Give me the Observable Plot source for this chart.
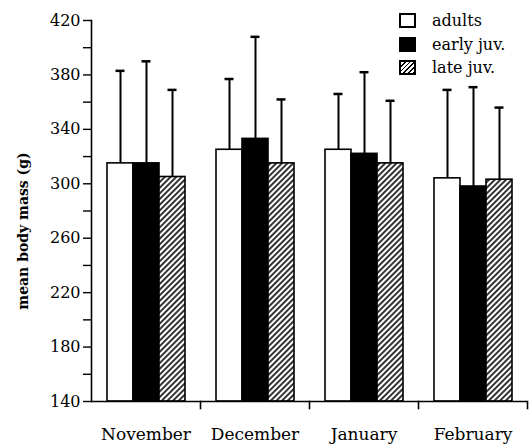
<!DOCTYPE html>
<html>
<head>
<meta charset="utf-8">
<script src="https://cdn.jsdelivr.net/npm/d3@7"></script>
<script src="https://cdn.jsdelivr.net/npm/@observablehq/plot@0.6"></script>
<style>
  body { margin: 0; background: #fff; }
  #wrap { position: relative; width: 531px; height: 445px; font-family: "DejaVu Serif", serif; }
  #legend { position: absolute; left: 399px; top: 9px; font-size: 16px; color: #000; }
  .row { display: flex; align-items: center; height: 23.5px; }
  .sw { width: 13px; height: 11px; border: 2px solid #000; margin-right: 16px; box-sizing: content-box; }
</style>
</head>
<body>
<div id="wrap"><div id="legend"></div></div>
<script>
const months = ["November", "December", "January", "February"];
const groups = ["adults", "early juv.", "late juv."];
const adultsMean = [315, 325, 325, 304];
const earlyMean  = [315, 333, 322, 298];
const lateMean   = [305, 315, 315, 303];
const adultsSD = [68, 52, 41, 65];
const earlySD  = [75, 75, 60, 73];
const lateSD   = [64, 47, 46, 53];
const yTicks = [140, 160, 180, 200, 220, 240, 260, 280, 300, 320, 340, 360, 380, 400, 420];
const fills = ["white", "black", "url(#hatch)"];

const means = [adultsMean, earlyMean, lateMean];
const sds = [adultsSD, earlySD, lateSD];
const rows = months.flatMap((m, i) => groups.map((g, j) => ({
  month: m, group: g, mean: means[j][i], upper: means[j][i] + sds[j][i]
})));

const chart = Plot.plot({
  width: 531,
  height: 445,
  marginLeft: 90,
  marginRight: 3,
  marginTop: 20,
  marginBottom: 44,
  style: { fontFamily: "DejaVu Serif", fontSize: "16px", color: "black", background: "white", overflow: "visible" },
  fx: { domain: months, padding: 0, label: null },
  x: { domain: groups, paddingInner: 0, paddingOuter: 0.53, axis: null },
  y: { domain: [140, 420], label: null },
  color: { domain: groups, range: fills },
  marks: [
    Plot.ruleX(rows, { fx: "month", x: "group", y1: "mean", y2: "upper", stroke: "black", strokeWidth: 2 }),
    Plot.tickY(rows, { fx: "month", x: "group", y: "upper", stroke: "black", strokeWidth: 2.5, insetLeft: 8.5, insetRight: 8.5 }),
    Plot.barY(rows, { fx: "month", x: "group", y1: 140, y2: "mean", fill: "group", stroke: "black", strokeWidth: 1.6 }),
    Plot.ruleY([140], { stroke: "black", strokeWidth: 1.6 }),
    Plot.frame({ anchor: "right", insetTop: 381, insetBottom: -7, stroke: "black", strokeWidth: 1.6 }),
    Plot.frame({ anchor: "left", facetAnchor: "left", stroke: "black", strokeWidth: 1.6 }),
    Plot.axisY({ ticks: yTicks, tickFormat: d => (d - 140) % 40 === 0 ? d : "", tickSize: 8, tickPadding: 3, label: null, fontSize: 16, strokeWidth: 1.4 }),
    Plot.axisFx({ anchor: "bottom", tickSize: 0, tickPadding: 26, label: null, fontSize: 17 }),
    Plot.text(["mean body mass (g)"], { frameAnchor: "left", textAnchor: "middle", rotate: -90, dx: -68, dy: 20, fontWeight: "bold", fontSize: "14px", facetAnchor: "left" })
  ]
});

d3.select(chart).insert("defs", ":first-child").html(
  '<pattern id="hatch" patternUnits="userSpaceOnUse" width="4" height="4" patternTransform="rotate(45)">' +
  '<rect width="4" height="4" fill="white"></rect>' +
  '<line x1="1" y1="0" x2="1" y2="4" stroke="black" stroke-width="1.6"></line></pattern>'
);

const wrap = document.getElementById("wrap");
wrap.insertBefore(chart, wrap.firstChild);

const legend = d3.select("#legend");
const swatchBg = [
  "#fff",
  "#000",
  "repeating-linear-gradient(-45deg, #000 0 1.3px, #fff 1.3px 3.3px)"
];
groups.forEach((g, j) => {
  const r = legend.append("div").attr("class", "row");
  r.append("div").attr("class", "sw").style("background", swatchBg[j]);
  r.append("span").text(g);
});
</script>
</body>
</html>
